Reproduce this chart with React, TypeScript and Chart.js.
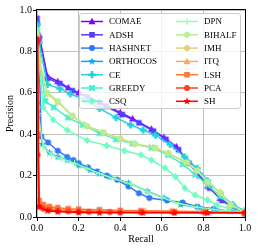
import React, { useEffect, useRef } from 'react';
import { Chart, registerables } from 'chart.js';
Chart.register(...registerables);

const FONT = '"Liberation Serif", "Times New Roman", serif';

// ---- data ----
const seriesLabels = ['COMAE', 'ADSH', 'HASHNET', 'ORTHOCOS', 'CE', 'GREEDY', 'CSQ', 'DPN', 'BIHALF', 'IMH', 'ITQ', 'LSH', 'PCA', 'SH'];

const comaeRecall = [0, 0.01, 0.05, 0.1, 0.15, 0.2, 0.3, 0.4, 0.46, 0.55, 0.61, 0.67, 0.72, 0.77, 0.82, 0.88, 0.94, 1.0];
const comaePrecision = [0.95, 0.88, 0.68, 0.655, 0.625, 0.6, 0.555, 0.505, 0.475, 0.425, 0.385, 0.34, 0.275, 0.215, 0.15, 0.09, 0.045, 0.025];

const adshRecall = [0, 0.01, 0.05, 0.11, 0.17, 0.24, 0.33, 0.41, 0.49, 0.56, 0.62, 0.68, 0.73, 0.78, 0.83, 0.89, 0.95, 1.0];
const adshPrecision = [0.96, 0.86, 0.67, 0.645, 0.61, 0.58, 0.535, 0.495, 0.455, 0.415, 0.375, 0.325, 0.26, 0.2, 0.14, 0.08, 0.04, 0.02];

const hashnetRecall = [0, 0.012, 0.02, 0.053, 0.1, 0.145, 0.175, 0.2, 0.245, 0.29, 0.335, 0.385, 0.44, 0.49, 0.54, 0.625, 0.7, 0.77, 0.85, 1.0];
const hashnetPrecision = [0.93, 0.7, 0.39, 0.36, 0.32, 0.29, 0.275, 0.26, 0.24, 0.22, 0.2, 0.18, 0.148, 0.115, 0.092, 0.08, 0.07, 0.05, 0.04, 0.015];

const orthocosRecall = [0, 0.005, 0.025, 0.06, 0.1, 0.145, 0.2, 0.255, 0.3, 0.35, 0.44, 0.53, 0.61, 0.69, 0.78, 0.86, 0.93, 1.0];
const orthocosPrecision = [0.92, 0.55, 0.35, 0.31, 0.29, 0.275, 0.25, 0.227, 0.21, 0.193, 0.164, 0.125, 0.092, 0.06, 0.045, 0.035, 0.028, 0.02];

const ceRecall = [0, 0.01, 0.05, 0.11, 0.16, 0.23, 0.3, 0.38, 0.45, 0.51, 0.57, 0.64, 0.71, 0.77, 0.82, 0.88, 0.94, 1.0];
const cePrecision = [0.93, 0.84, 0.64, 0.62, 0.595, 0.565, 0.525, 0.48, 0.445, 0.42, 0.395, 0.35, 0.29, 0.235, 0.175, 0.115, 0.06, 0.03];

const greedyRecall = [0, 0.01, 0.04, 0.08, 0.15, 0.22, 0.3, 0.38, 0.46, 0.55, 0.63, 0.7, 0.76, 0.82, 0.88, 0.94, 1.0];
const greedyPrecision = [0.9, 0.78, 0.56, 0.53, 0.48, 0.445, 0.405, 0.375, 0.355, 0.335, 0.3, 0.255, 0.205, 0.155, 0.1, 0.055, 0.02];

const csqRecall = [0, 0.01, 0.03, 0.077, 0.145, 0.24, 0.335, 0.42, 0.5, 0.55, 0.615, 0.665, 0.71, 0.76, 0.82, 0.865, 0.92, 1.0];
const csqPrecision = [0.9, 0.75, 0.53, 0.47, 0.42, 0.37, 0.345, 0.32, 0.3, 0.275, 0.237, 0.195, 0.14, 0.106, 0.082, 0.058, 0.043, 0.02];

const dpnRecall = [0, 0.005, 0.03, 0.07, 0.12, 0.18, 0.24, 0.3, 0.37, 0.45, 0.53, 0.6, 0.68, 0.77, 0.85, 0.93, 1.0];
const dpnPrecision = [0.91, 0.5, 0.34, 0.3, 0.28, 0.26, 0.235, 0.21, 0.185, 0.16, 0.122, 0.095, 0.065, 0.047, 0.036, 0.028, 0.018];

const bihalfRecall = [0, 0.01, 0.05, 0.1, 0.17, 0.24, 0.32, 0.4, 0.47, 0.57, 0.63, 0.72, 0.77, 0.82, 0.88, 0.93, 1.0];
const bihalfPrecision = [0.88, 0.76, 0.6, 0.56, 0.49, 0.44, 0.41, 0.38, 0.355, 0.335, 0.31, 0.265, 0.225, 0.17, 0.12, 0.06, 0.025];

const imhRecall = [0, 0.01, 0.05, 0.1, 0.17, 0.24, 0.32, 0.4, 0.47, 0.57, 0.63, 0.72, 0.77, 0.82, 0.88, 0.93, 1.0];
const imhPrecision = [0.87, 0.75, 0.595, 0.555, 0.487, 0.437, 0.407, 0.377, 0.352, 0.332, 0.307, 0.262, 0.222, 0.167, 0.117, 0.058, 0.022];

const itqRecall = [0, 0.003, 0.01, 0.03, 0.06, 0.1, 0.15, 0.2, 0.3, 0.4, 0.52, 0.67, 0.82, 1.0];
const itqPrecision = [0.85, 0.5, 0.07, 0.055, 0.045, 0.04, 0.035, 0.033, 0.03, 0.03, 0.03, 0.028, 0.025, 0.02];

const lshRecall = [0, 0.003, 0.01, 0.03, 0.06, 0.1, 0.15, 0.2, 0.3, 0.4, 0.5, 0.65, 0.8, 1.0];
const lshPrecision = [0.86, 0.4, 0.08, 0.06, 0.05, 0.045, 0.04, 0.038, 0.035, 0.032, 0.03, 0.028, 0.025, 0.02];

const pcaRecall = [0, 0.003, 0.01, 0.03, 0.06, 0.1, 0.15, 0.2, 0.25, 0.35, 0.5, 0.66, 0.81, 1.0];
const pcaPrecision = [0.84, 0.3, 0.05, 0.04, 0.035, 0.03, 0.028, 0.026, 0.025, 0.024, 0.023, 0.022, 0.021, 0.02];

const shRecall = [0, 0.002, 0.01, 0.05, 0.1, 0.2, 0.3, 0.4, 0.51, 0.66, 0.82, 1.0];
const shPrecision = [0.86, 0.85, 0.05, 0.03, 0.025, 0.022, 0.02, 0.02, 0.02, 0.02, 0.02, 0.02];

const seriesRecall = [comaeRecall, adshRecall, hashnetRecall, orthocosRecall, ceRecall, greedyRecall, csqRecall, dpnRecall, bihalfRecall, imhRecall, itqRecall, lshRecall, pcaRecall, shRecall];
const seriesPrecision = [comaePrecision, adshPrecision, hashnetPrecision, orthocosPrecision, cePrecision, greedyPrecision, csqPrecision, dpnPrecision, bihalfPrecision, imhPrecision, itqPrecision, lshPrecision, pcaPrecision, shPrecision];

const xTicks = [0, 0.2, 0.4, 0.6, 0.8, 1.0];
const yTicks = [0, 0.2, 0.4, 0.6, 0.8, 1.0];

// ---- styles ----
const seriesColors = [
  'rgb(128,0,255)', 'rgb(88,61,253)', 'rgb(49,118,248)', 'rgb(10,169,238)', 'rgb(29,210,226)',
  'rgb(69,238,210)', 'rgb(108,253,191)', 'rgb(147,253,169)', 'rgb(186,238,145)', 'rgb(226,210,118)',
  'rgb(255,169,90)', 'rgb(255,118,61)', 'rgb(255,61,31)', 'rgb(255,0,0)',
];
const seriesMarkers = ['^', 's', 'o', '*', 'P', 'X', 'D', '+', 'o', 'h', '^', 's', 'o', '*'];
// drawing depth (higher drawn first / underneath)
const seriesDepth = [0, -1, -2, -3, -4, -5, -6, -7, -8, -7.5, -10, -11, -12, -13];

function drawMarker(ctx: CanvasRenderingContext2D, shape: string, x: number, y: number, color: string) {
  ctx.save();
  ctx.translate(x, y);
  ctx.fillStyle = color;
  ctx.strokeStyle = color;
  ctx.lineWidth = 1;
  ctx.beginPath();
  switch (shape) {
    case 'o':
      ctx.arc(0, 0, 3, 0, Math.PI * 2);
      ctx.fill();
      break;
    case 'h':
      for (let k = 0; k < 6; k++) {
        const a = Math.PI / 2 + (k * Math.PI) / 3;
        const px = 3.3 * Math.cos(a), py = 3.3 * Math.sin(a);
        if (k === 0) ctx.moveTo(px, py); else ctx.lineTo(px, py);
      }
      ctx.closePath();
      ctx.fill();
      break;
    case '^':
      ctx.moveTo(0, -3.7);
      ctx.lineTo(3.5, 2.8);
      ctx.lineTo(-3.5, 2.8);
      ctx.closePath();
      ctx.fill();
      break;
    case 's':
      ctx.rect(-2.8, -2.8, 5.6, 5.6);
      ctx.fill();
      break;
    case 'D':
      ctx.moveTo(0, -3.8);
      ctx.lineTo(3.3, 0);
      ctx.lineTo(0, 3.8);
      ctx.lineTo(-3.3, 0);
      ctx.closePath();
      ctx.fill();
      break;
    case '*':
      for (let k = 0; k < 10; k++) {
        const r = k % 2 === 0 ? 4 : 1.7;
        const a = -Math.PI / 2 + (k * Math.PI) / 5;
        const px = r * Math.cos(a), py = r * Math.sin(a);
        if (k === 0) ctx.moveTo(px, py); else ctx.lineTo(px, py);
      }
      ctx.closePath();
      ctx.fill();
      break;
    case 'P':
    case 'X': {
      if (shape === 'X') ctx.rotate(Math.PI / 4);
      const r = 3.6, w = 1.3;
      ctx.moveTo(-w, -r); ctx.lineTo(w, -r); ctx.lineTo(w, -w); ctx.lineTo(r, -w); ctx.lineTo(r, w);
      ctx.lineTo(w, w); ctx.lineTo(w, r); ctx.lineTo(-w, r); ctx.lineTo(-w, w); ctx.lineTo(-r, w);
      ctx.lineTo(-r, -w); ctx.lineTo(-w, -w);
      ctx.closePath();
      ctx.fill();
      break;
    }
    case '+':
      ctx.lineWidth = 1.1;
      ctx.moveTo(-3.6, 0); ctx.lineTo(3.6, 0);
      ctx.moveTo(0, -3.6); ctx.lineTo(0, 3.6);
      ctx.stroke();
      break;
  }
  ctx.restore();
}

function makeMarkerCanvas(shape: string, color: string): HTMLCanvasElement {
  const c = document.createElement('canvas');
  c.width = 11;
  c.height = 11;
  const ctx = c.getContext('2d')!;
  drawMarker(ctx, shape, 5.5, 5.5, color);
  return c;
}

const frameAndLegend = {
  id: 'frameAndLegend',
  afterDraw(chart: any) {
    const ctx: CanvasRenderingContext2D = chart.ctx;
    const { left, top, right, bottom } = chart.chartArea;
    ctx.save();
    ctx.strokeStyle = '#000';
    ctx.lineWidth = 1;
    ctx.strokeRect(Math.round(left) - 0.5, Math.round(top) - 0.5, Math.round(right - left) + 1, Math.round(bottom - top) + 1);

    const bx = 79.5, by = 13.5, bw = 161, bh = 95, rr = 2.5;
    ctx.beginPath();
    ctx.moveTo(bx + rr, by);
    ctx.lineTo(bx + bw - rr, by);
    ctx.arcTo(bx + bw, by, bx + bw, by + rr, rr);
    ctx.lineTo(bx + bw, by + bh - rr);
    ctx.arcTo(bx + bw, by + bh, bx + bw - rr, by + bh, rr);
    ctx.lineTo(bx + rr, by + bh);
    ctx.arcTo(bx, by + bh, bx, by + bh - rr, rr);
    ctx.lineTo(bx, by + rr);
    ctx.arcTo(bx, by, bx + rr, by, rr);
    ctx.closePath();
    ctx.fillStyle = 'rgba(255,255,255,0.8)';
    ctx.fill();
    ctx.strokeStyle = '#cccccc';
    ctx.lineWidth = 1;
    ctx.stroke();

    ctx.font = `9px ${FONT}`;
    ctx.textBaseline = 'middle';
    ctx.textAlign = 'left';
    const cols = [
      { x0: 81, x1: 103, mx: 92, tx: 109 },
      { x0: 176, x1: 198, mx: 187, tx: 204 },
    ];
    seriesLabels.forEach((label, i) => {
      const col = cols[i < 7 ? 0 : 1];
      const row = i % 7;
      const y = 21.5 + row * 13.3;
      ctx.strokeStyle = seriesColors[i];
      ctx.lineWidth = 1.5;
      ctx.beginPath();
      ctx.moveTo(col.x0, y);
      ctx.lineTo(col.x1, y);
      ctx.stroke();
      drawMarker(ctx, seriesMarkers[i], col.mx, y, seriesColors[i]);
      ctx.fillStyle = '#000';
      ctx.fillText(label, col.tx, y + 0.5);
    });
    ctx.restore();
  },
};

export default function App() {
  const ref = useRef<HTMLCanvasElement>(null);
  useEffect(() => {
    const datasets = seriesLabels.map((label, i) => ({
      label,
      data: seriesRecall[i].map((r, j) => ({ x: r, y: seriesPrecision[i][j] })),
      borderColor: seriesColors[i],
      backgroundColor: seriesColors[i],
      borderWidth: 1.5,
      pointStyle: makeMarkerCanvas(seriesMarkers[i], seriesColors[i]),
      pointRadius: 3,
      tension: 0,
      order: seriesDepth[i],
    }));
    const tickFont = { family: FONT, size: 10 };
    const chart = new Chart(ref.current!, {
      type: 'line',
      data: { datasets },
      options: {
        animation: false,
        responsive: false,
        devicePixelRatio: 1,
        layout: { padding: { top: 10, right: 13, left: 0, bottom: 0 } },
        plugins: { legend: { display: false }, tooltip: { enabled: false } },
        events: [],
        scales: {
          x: {
            type: 'linear',
            min: 0,
            max: 1,
            afterBuildTicks: (s: any) => { s.ticks = xTicks.map((v) => ({ value: v })); },
            ticks: { font: tickFont, color: '#000', padding: 1, maxRotation: 0, callback: (v: any) => Number(v).toFixed(1) },
            grid: { color: '#c0c0c0', lineWidth: 1, tickLength: 4, tickColor: '#000', tickWidth: 1 },
            border: { display: false },
            title: { display: true, text: 'Recall', font: { family: FONT, size: 10 }, color: '#000', padding: { top: 0, bottom: 6 } },
            afterFit: (s: any) => { s.height = 34; s.paddingLeft = 0; s.paddingRight = 0; },
          },
          y: {
            type: 'linear',
            min: 0,
            max: 1,
            afterBuildTicks: (s: any) => { s.ticks = yTicks.map((v) => ({ value: v })); },
            ticks: { font: tickFont, color: '#000', padding: 1, callback: (v: any) => Number(v).toFixed(1) },
            grid: { color: '#c0c0c0', lineWidth: 1, tickLength: 4, tickColor: '#000', tickWidth: 1 },
            border: { display: false },
            title: { display: true, text: 'Precision', font: { family: FONT, size: 10 }, color: '#000', padding: { top: 4, bottom: 0 } },
            afterFit: (s: any) => { s.width = 37; s.paddingTop = 0; s.paddingBottom = 0; },
          },
        },
      } as any,
      plugins: [frameAndLegend],
    });
    return () => chart.destroy();
  }, []);
  return (
    <div style={{ position: 'absolute', left: 0, top: 0, width: 258, height: 251 }}>
      <canvas ref={ref} width={258} height={251} style={{ display: 'block', width: 258, height: 251 }} />
    </div>
  );
}
